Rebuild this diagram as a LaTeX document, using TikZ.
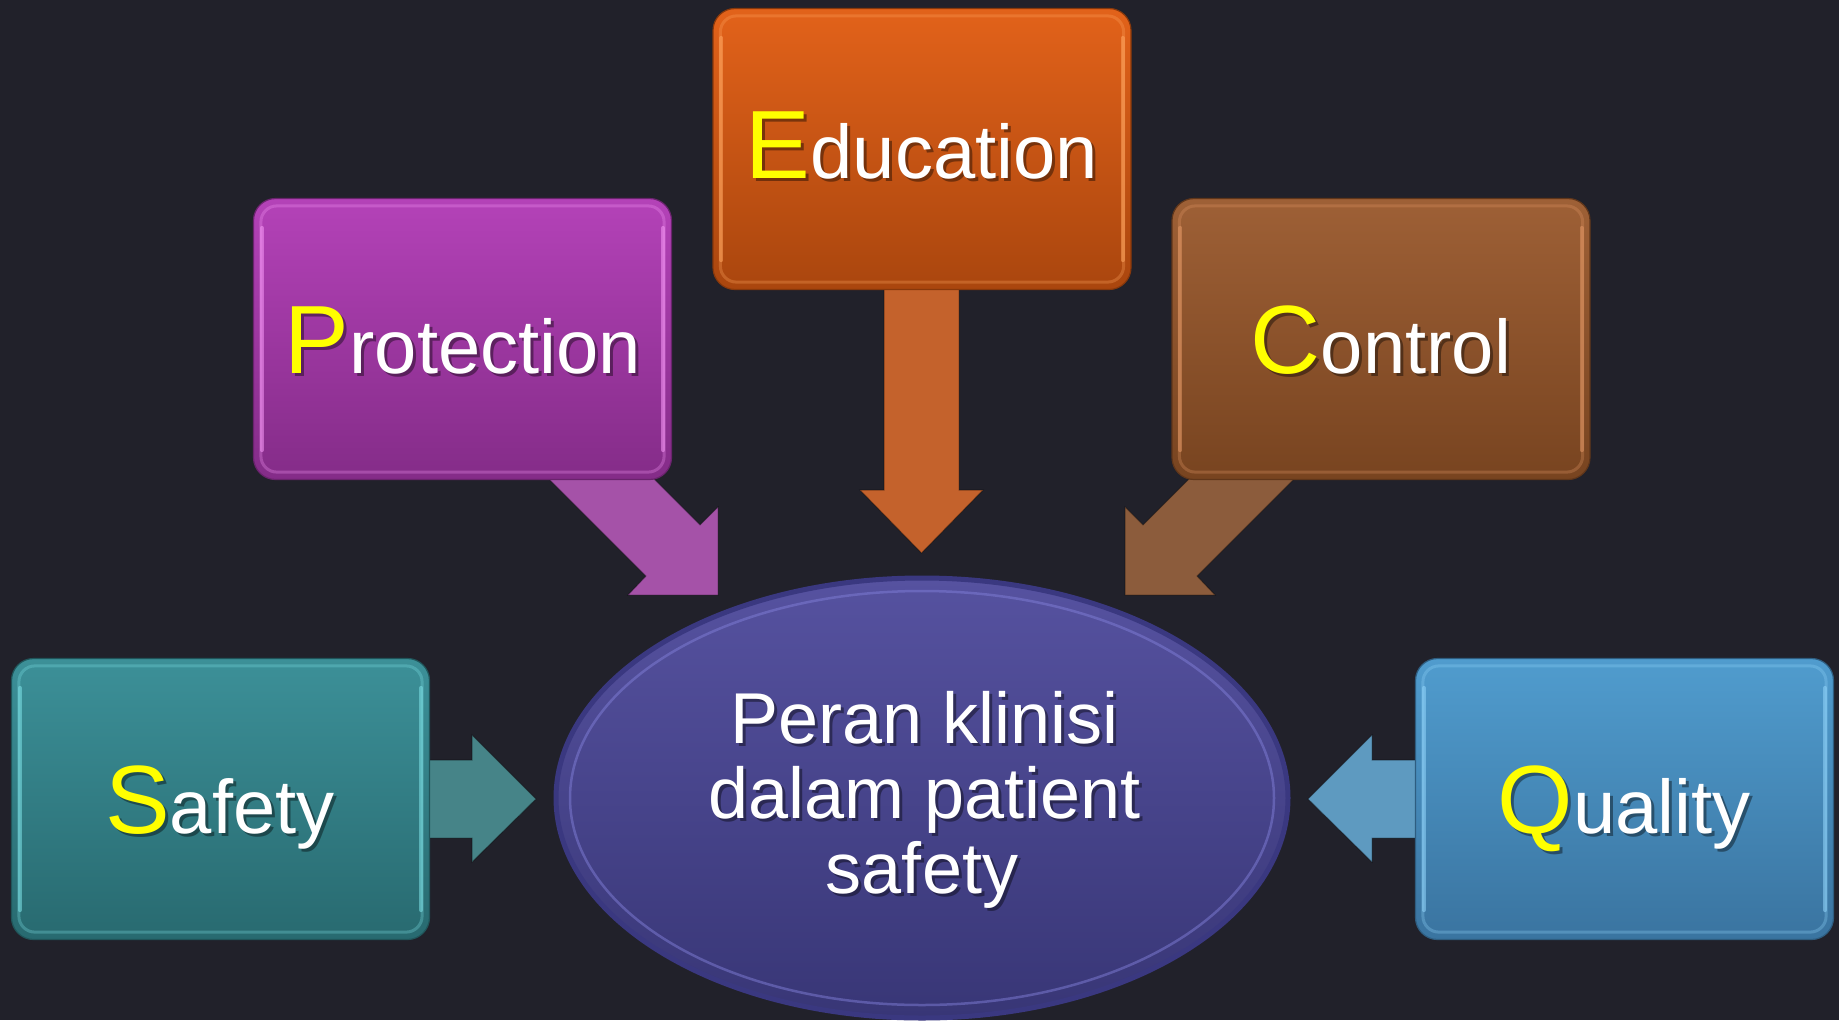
\documentclass[tikz,border=0pt]{standalone}
\usepackage{fontspec}
\setmainfont{Liberation Sans}
\usetikzlibrary{shapes.geometric,calc}
\definecolor{bg}{RGB}{33,33,42}
\definecolor{capyellow}{RGB}{255,255,0}
\definecolor{eduTop}{RGB}{226,98,26}
\definecolor{eduBot}{RGB}{170,70,14}
\definecolor{eduHi}{RGB}{255,165,95}
\definecolor{eduArr}{RGB}{196,98,44}
\definecolor{proTop}{RGB}{180,66,184}
\definecolor{proBot}{RGB}{132,44,136}
\definecolor{proHi}{RGB}{245,150,245}
\definecolor{proArr}{RGB}{165,82,168}
\definecolor{conTop}{RGB}{158,96,54}
\definecolor{conBot}{RGB}{120,68,32}
\definecolor{conHi}{RGB}{225,150,100}
\definecolor{conArr}{RGB}{140,92,60}
\definecolor{safTop}{RGB}{60,144,152}
\definecolor{safBot}{RGB}{40,106,112}
\definecolor{safHi}{RGB}{125,225,230}
\definecolor{safArr}{RGB}{70,132,136}
\definecolor{quaTop}{RGB}{80,156,206}
\definecolor{quaBot}{RGB}{58,116,160}
\definecolor{quaHi}{RGB}{145,212,250}
\definecolor{quaArr}{RGB}{94,154,192}
\definecolor{ellTop}{RGB}{86,82,160}
\definecolor{ellBot}{RGB}{56,54,118}
\definecolor{ellRim}{RGB}{58,56,128}
\definecolor{ellHi}{RGB}{128,126,215}
\newcommand\twotone[3]{{\fontsize{97}{100}\selectfont\textcolor{#1}{#2}}{\fontsize{76}{80}\selectfont #3}}
\tikzset{
  card/.style={rectangle, rounded corners=22pt, minimum width=418pt,
    minimum height=281pt, inner sep=0pt, line width=1.2pt},
  gloss/.style={rounded corners=16pt, line width=3pt, opacity=0.3},
  glossside/.style={line width=4pt, opacity=0.55, line cap=round},
  blockarrow/.style={line width=1pt, draw opacity=0.35, draw=black},
  lbl/.style={anchor=base, inner sep=0pt, text=white},
  lblshadow/.style={anchor=base, inner sep=0pt, text=black, opacity=0.4},
  midtext/.style={anchor=base, inner sep=0pt, text=white, font=\fontsize{72}{76}\selectfont},
  midshadow/.style={anchor=base, inner sep=0pt, text=black, opacity=0.4, font=\fontsize{72}{76}\selectfont}
}
\begin{document}
\begin{tikzpicture}[x=1pt,y=-1pt]
\useasboundingbox (0,0) rectangle (1839,1020);
\fill[bg] (0,0) rectangle (1839,1020);

% block arrows
\filldraw[blockarrow, fill=proArr] (530,460) -- (646,576) -- (628,595) -- (718,595) -- (718,507) -- (700,525) -- (635,460) -- cycle;
\filldraw[blockarrow, fill=conArr] (1313,460) -- (1197,576) -- (1215,595) -- (1125,595) -- (1125,507) -- (1143,525) -- (1208,460) -- cycle;
\filldraw[blockarrow, fill=eduArr] (884,280) -- (884,490) -- (860,490) -- (921.5,553) -- (983,490) -- (959,490) -- (959,280) -- cycle;
\filldraw[blockarrow, fill=safArr] (420,760) -- (472,760) -- (472,735) -- (536,799) -- (472,862) -- (472,838) -- (420,838) -- cycle;
\filldraw[blockarrow, fill=quaArr] (1420,760) -- (1372,760) -- (1372,735) -- (1308,799) -- (1372,862) -- (1372,838) -- (1420,838) -- cycle;

% boxes
\node[card, top color=eduTop, bottom color=eduBot, draw=eduBot!80!black] (edu) at (922,149) {};
\node[card, top color=proTop, bottom color=proBot, draw=proBot!80!black] (pro) at (462.5,339) {};
\node[card, top color=conTop, bottom color=conBot, draw=conBot!80!black] (con) at (1381,339) {};
\node[card, top color=safTop, bottom color=safBot, draw=safBot!80!black] (saf) at (220.5,799) {};
\node[card, top color=quaTop, bottom color=quaBot, draw=quaBot!80!black] (qua) at (1624.5,799) {};
\foreach \n/\c in {edu/eduHi, pro/proHi, con/conHi, saf/safHi, qua/quaHi}{
  \draw[gloss, draw=\c] ($(\n.south west)+(8,-8)$) rectangle ($(\n.north east)+(-8,8)$);
  \draw[glossside, draw=\c] ($(\n.north west)+(9,30)$) -- ($(\n.south west)+(9,-30)$);
  \draw[glossside, draw=\c] ($(\n.north east)+(-9,30)$) -- ($(\n.south east)+(-9,-30)$);
}

% central ellipse
\node[ellipse, minimum width=732pt, minimum height=440pt, inner sep=0pt,
      top color=ellTop, bottom color=ellBot, draw=ellRim, line width=5pt] (mid) at (922,798) {};
\draw[ellHi, line width=2.5pt, opacity=0.5] (mid.center) ellipse [x radius=352, y radius=207];

% labels
\node[lblshadow] (eduS) at (925,181) {\twotone{black}{E}{ducation}};
\node[lbl] (eduT) at (922,178) {\twotone{capyellow}{E}{ducation}};
\node[lblshadow] (proS) at (466,376) {\twotone{black}{P}{rotection}};
\node[lbl] (proT) at (463,373) {\twotone{capyellow}{P}{rotection}};
\node[lblshadow] (conS) at (1384,376) {\twotone{black}{C}{ontrol}};
\node[lbl] (conT) at (1381,373) {\twotone{capyellow}{C}{ontrol}};
\node[lblshadow] (safS) at (223,836) {\twotone{black}{S}{afety}};
\node[lbl] (safT) at (220,833) {\twotone{capyellow}{S}{afety}};
\node[lblshadow] (quaS) at (1627,836) {\twotone{black}{Q}{uality}};
\node[lbl] (quaT) at (1624,833) {\twotone{capyellow}{Q}{uality}};

\node[midshadow] (m1s) at (928,746) {Peran klinisi};
\node[midtext] (m1) at (925,743) {Peran klinisi};
\node[midshadow] (m2s) at (928,821) {dalam patient};
\node[midtext] (m2) at (925,818) {dalam patient};
\node[midshadow] (m3s) at (925,896) {safety};
\node[midtext] (m3) at (922,893) {safety};
\end{tikzpicture}
\end{document}
